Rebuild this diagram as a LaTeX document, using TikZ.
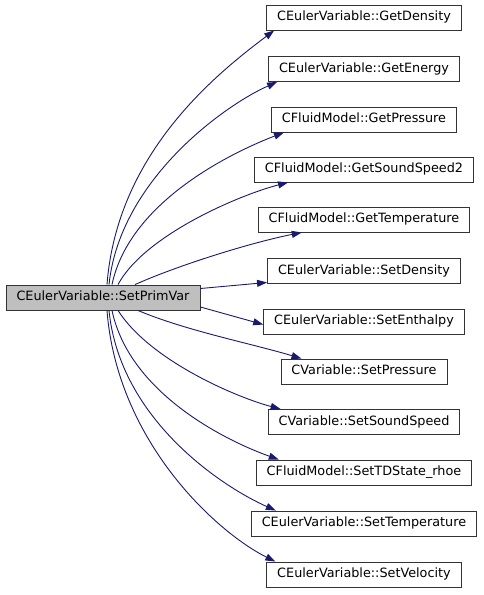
\documentclass[tikz,border=0pt]{standalone}
\usepackage{fontspec}
\setmainfont{DejaVu Sans}
\usetikzlibrary{arrows.meta,calc}

\definecolor{callblue}{HTML}{191970}
\definecolor{callgray}{HTML}{BFBFBF}

\tikzset{
    fnbox/.style={draw=black!80, line width=0.9pt, fill=white,
        inner xsep=10.5pt, inner ysep=0pt, minimum height=25pt,
        font=\fontsize{12.8}{14}\selectfont, text height=9.5pt, text depth=2.8pt},
    callarrow/.style={callblue, line width=0.9pt,
        -{Triangle[length=10pt,width=7pt]}}
}

\begin{document}
\begin{tikzpicture}[x=1pt, y=-1pt]
    \useasboundingbox (0,0) rectangle (484,595);

    % Caller
    \node[fnbox, fill=callgray] (src) at (103,297.5) {CEulerVariable::SetPrimVar};

    % Callees
    \foreach \name/\y/\label in {
        getdens/17.5/CEulerVariable::GetDensity,
        getener/69/CEulerVariable::GetEnergy,
        getpres/119.5/CFluidModel::GetPressure,
        getsound/169.5/CFluidModel::GetSoundSpeed2,
        gettemp/219.5/CFluidModel::GetTemperature,
        setdens/271/CEulerVariable::SetDensity,
        setenth/321.5/CEulerVariable::SetEnthalpy,
        setpres/371.5/CVariable::SetPressure,
        setsound/422/CVariable::SetSoundSpeed,
        settd/472.5/CFluidModel::SetTDState\_rhoe,
        settemp/523.5/CEulerVariable::SetTemperature,
        setvel/574.5/CEulerVariable::SetVelocity}
        \node[fnbox] (\name) at (364,\y) {\label};

    % Calls going up
    \draw[callarrow] ($(src.north)+(4,0)$) .. controls +(10,-130) and +(-60,45) .. ($(getdens.south west)+(8,0)$);
    \draw[callarrow] ($(src.north)+(6,0)$) .. controls +(11,-105) and +(-52,23) .. ($(getener.south west)+(9,0)$);
    \draw[callarrow] ($(src.north)+(9,0)$) .. controls +(18,-85) and +(-47,18) .. ($(getpres.south west)+(13,0)$);
    \draw[callarrow] ($(src.north)+(15,0)$) .. controls +(27,-50) and +(-47,12) .. ($(getsound.south west)+(34,0)$);
    \draw[callarrow] ($(src.north)+(32,0)$) .. controls +(45,-20) and +(-50,10) .. ($(gettemp.south west)+(44,0)$);

    % Calls to the side
    \draw[callarrow] ($(src.east)+(0,-9)$) -- ($(setdens.south west)+(0,-1.5)$);
    \draw[callarrow] ($(src.east)+(0,9.5)$) -- ($(setenth.west)+(0,3)$);

    % Calls going down
    \draw[callarrow] ($(src.south)+(35,0)$) .. controls +(47,20) and +(-50,-15) .. ($(setpres.north west)+(21,0)$);
    \draw[callarrow] ($(src.south)+(15,0)$) .. controls +(32,50) and +(-45,-12) .. ($(setsound.north west)+(13,0)$);
    \draw[callarrow] ($(src.south)+(9,0)$) .. controls +(18,85) and +(-48,-17) .. ($(settd.north west)+(23,0)$);
    \draw[callarrow] ($(src.south)+(6,0)$) .. controls +(11,110) and +(-52,-23) .. ($(settemp.north west)+(25,0)$);
    \draw[callarrow] ($(src.south)+(4,0)$) .. controls +(10,130) and +(-60,-30) .. ($(setvel.north west)+(9,0)$);
\end{tikzpicture}
\end{document}
